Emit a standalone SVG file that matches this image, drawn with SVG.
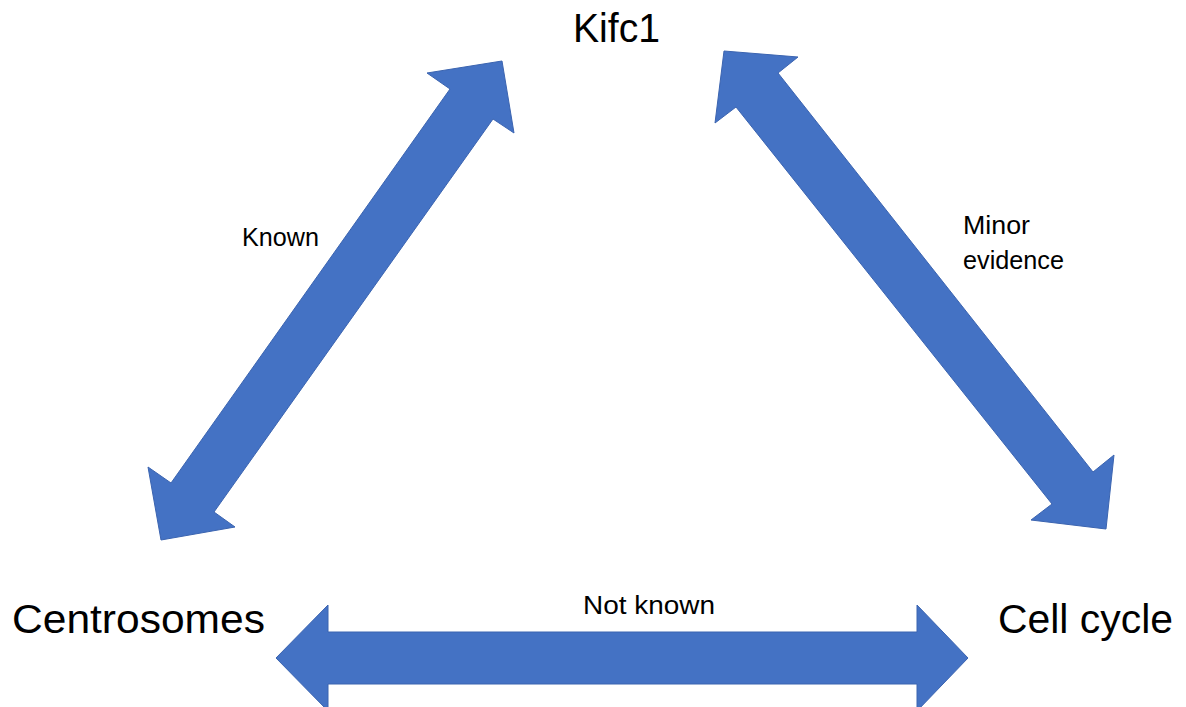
<svg xmlns="http://www.w3.org/2000/svg" width="1186" height="707" viewBox="0 0 1186 707">
<style>
.arrow{fill:#4472C4;stroke:#3B64B0;stroke-width:1;stroke-linejoin:miter}
.big{font-family:"Liberation Sans",Arial,sans-serif;font-size:40px;fill:#000}
.small{font-family:"Liberation Sans",Arial,sans-serif;font-size:25px;fill:#000}
</style>
<rect width="1186" height="707" fill="#fff"/>
<g id="connectors">
<path id="known-arrow" class="arrow" d="M502,61 L514,133 L493,119 L214,512 L235,527 L161,540 L148,467 L171,483 L450,89 L427,73 Z"/>
<path id="minor-arrow" class="arrow" d="M724,51 L798,57 L778,73 L1093,472 L1114,455 L1106,529 L1031,520 L1052,504 L736,107 L715,123 Z"/>
<path id="notknown-arrow" class="arrow" d="M276,658 L328,605 L328,632 L917,632 L917,605 L968,658 L917,711 L917,684 L328,684 L328,711 Z"/>
</g>
<g id="node-kifc1"><text class="big" x="573" y="42" textLength="87" lengthAdjust="spacingAndGlyphs">Kifc1</text></g>
<g id="node-centrosomes"><text class="big" x="12" y="633" textLength="253" lengthAdjust="spacingAndGlyphs">Centrosomes</text></g>
<g id="node-cellcycle"><text class="big" x="998" y="633" textLength="175" lengthAdjust="spacingAndGlyphs">Cell cycle</text></g>
<g id="labels">
<text class="small" x="242" y="246" textLength="77" lengthAdjust="spacingAndGlyphs">Known</text>
<text class="small" x="963" y="234" textLength="67" lengthAdjust="spacingAndGlyphs">Minor</text>
<text class="small" x="963" y="269" textLength="101" lengthAdjust="spacingAndGlyphs">evidence</text>
<text class="small" x="583" y="614" textLength="132" lengthAdjust="spacingAndGlyphs">Not known</text>
</g>
</svg>
